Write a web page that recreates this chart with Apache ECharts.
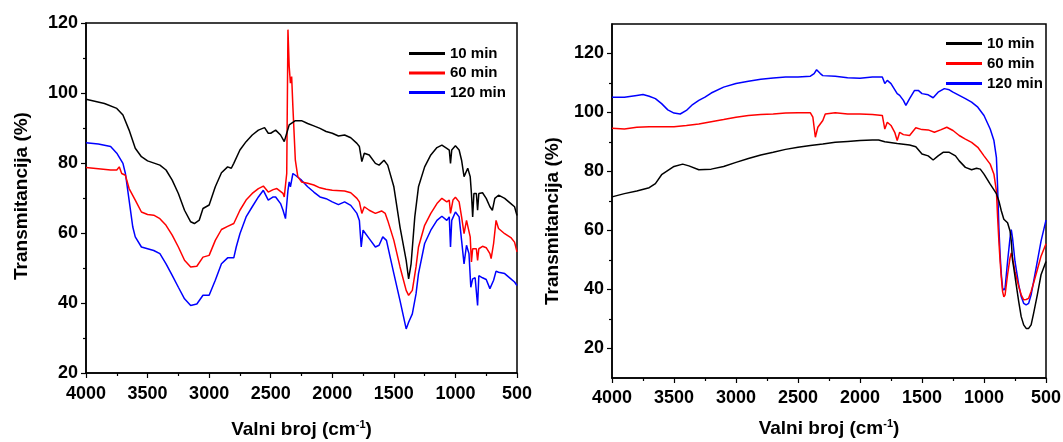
<!DOCTYPE html>
<html>
<head>
<meta charset="utf-8">
<script src="https://cdn.jsdelivr.net/npm/echarts@6/dist/echarts.min.js"></script>
<style>html,body{margin:0;padding:0;background:#fff;}#c{width:1063px;height:442px;}</style>
</head>
<body>
<div id="c"></div>
<script>
// ---------- DATA ----------
const seriesNames = ['10 min', '60 min', '120 min'];
const xTicks = [4000, 3500, 3000, 2500, 2000, 1500, 1000, 500];
const rightYLabels = [20, 40, 60, 80, 100, 120];
const rightYMinor = [30, 50, 70, 90, 110];

// Left panel, 10 min
const L10_wn = [4000,3850,3750,3700,3650,3600,3550,3500,3400,3350,3300,3250,3200,3150,3120,3080,3050,3000,2950,2900,2850,2820,2800,2750,2700,2650,2600,2550,2520,2500,2460,2420,2390,2370,2350,2300,2250,2200,2150,2100,2050,2000,1950,1900,1850,1800,1780,1760,1740,1700,1650,1620,1580,1550,1500,1450,1400,1380,1360,1330,1300,1250,1200,1150,1110,1070,1050,1040,1030,1000,970,950,930,900,880,870,860,850,830,820,810,780,750,720,700,680,650,600,550,520,500];
const L10_T  = [98.2,97,95.6,93.7,89.4,84.2,81.8,80.6,79.4,78,75.1,71.3,66.5,63.2,62.7,63.7,67,68,73.2,77.2,78.9,78.5,79.9,83.7,86.1,88,89.4,90.1,88.5,88.5,89.4,88,86.1,88.5,90.9,92.1,92.1,91.3,90.6,89.9,89,88.5,87.7,88,87.2,85.6,84.7,80.4,82.8,82.3,79.9,79.4,80.8,79.4,73.2,61.7,52.2,46.9,51.2,64.6,73.2,78.9,82.3,84.4,85.1,84.2,83.7,79.9,83.7,84.9,83.7,80.8,76.1,78.5,76.1,71.3,64.6,71.3,71.3,66.5,71.3,71.5,69.9,67.5,66.5,69.9,70.8,69.9,68.4,67.5,65];

// Left panel, 60 min
const L60_wn = [4000,3800,3750,3730,3710,3680,3650,3600,3550,3500,3450,3400,3350,3300,3250,3200,3150,3100,3050,3000,2950,2900,2850,2800,2750,2700,2650,2600,2560,2520,2480,2450,2400,2390,2370,2360,2350,2340,2330,2320,2300,2280,2250,2200,2150,2100,2050,2000,1900,1850,1800,1780,1760,1740,1700,1650,1600,1570,1550,1500,1450,1400,1380,1350,1320,1300,1250,1200,1150,1110,1070,1050,1040,1020,1000,970,950,930,910,900,880,870,860,830,820,810,780,750,720,710,690,670,650,600,550,520,500];
const L60_T  = [78.7,78,78,78.9,77,76.5,72.7,69.4,66,65.3,65.1,64.1,62.2,59.4,56,52.2,50.3,50.5,53.1,53.6,57.9,61,61.9,62.7,66.5,69.4,71.3,72.7,73.4,71.7,72.4,72.7,71.3,70.3,77,118.1,107.6,102.8,104.7,96.1,80.8,76.1,74.6,74.2,73.7,72.9,72.5,72.2,72,71.5,69.9,68.9,65.6,67.5,66.5,65.6,66.3,65.6,63.6,57.9,50.3,43.6,42.2,43.6,50.3,56,62.2,65.6,68.4,69.9,68.9,69.4,65.6,69.4,70.2,68.9,64.6,59.8,63.6,63.6,58.9,51.7,55.5,55.5,52.2,55.5,56.2,55.8,54.1,52.7,57,63.6,61.3,59.8,58.7,57.4,54.6];

// Left panel, 120 min
const L120_wn = [4000,3900,3800,3750,3700,3680,3650,3620,3600,3550,3500,3450,3400,3350,3300,3250,3200,3150,3100,3050,3000,2950,2900,2850,2800,2780,2750,2700,2650,2600,2560,2520,2480,2460,2420,2400,2380,2360,2350,2340,2320,2300,2250,2200,2150,2100,2050,2000,1950,1900,1850,1800,1780,1765,1750,1700,1650,1620,1590,1560,1530,1500,1450,1400,1380,1350,1320,1300,1250,1200,1150,1110,1070,1050,1040,1030,1000,970,950,930,910,890,875,860,840,820,810,780,750,720,690,670,650,600,550,520,500];
const L120_T  = [85.8,85.4,84.7,82.8,79.9,77,69.4,61.7,58.9,56,55.5,55,54.1,51.2,47.9,44.5,41.2,39.3,39.7,42.2,42.2,46.5,51.2,52.9,52.9,56,59.8,64.6,67.5,70.3,72.2,69.4,70.3,70.3,68.4,66.5,64.1,72.2,74.6,73.2,77,76.5,75.1,73.2,71.7,70.3,69.8,68.9,68.1,68.9,67.9,65.6,63.6,56,60.8,58.4,56,56.5,58.9,57.9,53.1,48.4,40.7,32.6,34.5,36.9,42.6,48.4,57,60.8,63.6,64.8,63.6,64.6,56,63.6,66,64.6,57.9,51.2,56.5,54.1,44.5,46.9,47.2,39.3,47.8,47.2,46.7,44.1,46.5,49.1,48.8,48.4,46.9,46,45];

// Right panel, 10 min
const R10_wn = [4000,3900,3800,3700,3650,3600,3500,3430,3380,3300,3200,3100,3000,2900,2800,2700,2600,2500,2400,2300,2200,2100,2000,1900,1850,1800,1700,1600,1550,1500,1450,1410,1370,1330,1280,1230,1200,1150,1100,1060,1030,1000,950,900,880,860,840,810,790,780,770,760,740,720,700,680,660,640,620,600,570,540,500];
const R10_T  = [71.4,72.5,73.4,74.5,75.9,78.9,81.7,82.5,81.9,80.6,80.8,81.7,83.1,84.4,85.6,86.5,87.5,88.2,88.8,89.3,89.9,90.2,90.5,90.7,90.7,90.1,89.5,89,88.4,85.9,85.3,83.9,85.3,86.5,86.5,85.3,83.6,81.4,80.6,81.1,80.8,79.1,75.7,72.5,70,66.6,63.8,62.6,59.8,56.4,50,47.3,41.6,35.9,30.8,28,26.8,26.8,28,31.9,38.2,45,49.5];

// Right panel, 60 min
const R60_wn = [4000,3900,3800,3700,3600,3500,3400,3300,3200,3100,3000,2900,2800,2700,2600,2500,2400,2380,2360,2340,2300,2280,2200,2100,2000,1900,1820,1800,1780,1750,1720,1700,1680,1650,1600,1550,1500,1450,1400,1350,1300,1250,1200,1150,1100,1050,1000,950,920,900,890,880,870,860,850,840,830,810,790,780,770,750,720,700,680,660,640,620,600,570,540,500];
const R60_T  = [94.7,94.4,95,95.2,95.2,95.2,95.6,96.1,96.9,97.6,98.4,99,99.3,99.5,99.8,99.9,99.9,98.4,91.6,95,97.3,99.5,99.9,99.5,99.5,99.3,99,94.4,96.7,95.6,93.3,90.5,93.3,92.5,92.2,94.8,94.2,94.1,93.3,94.1,95,93.9,92.2,91,89.9,88.2,85.3,82.5,79.1,73.4,64.3,56.4,49.5,43.9,39.3,37.5,38.2,45,50.7,52.4,50.7,46.1,41,38.2,36.5,36.6,37,39.3,42.2,46.7,51.3,55.5];

// Right panel, 120 min
const R120_wn = [4000,3900,3800,3750,3700,3650,3600,3550,3500,3450,3400,3350,3300,3250,3200,3100,3000,2900,2800,2700,2600,2500,2400,2370,2350,2320,2300,2200,2100,2000,1900,1820,1800,1780,1750,1700,1680,1650,1630,1600,1560,1530,1500,1450,1410,1370,1320,1280,1250,1200,1150,1100,1050,1000,950,920,900,890,880,870,860,850,840,830,810,790,780,770,750,720,700,680,660,640,620,600,570,540,500];
const R120_T  = [105.2,105.2,105.8,106.1,105.5,104.7,103,100.9,99.8,99.5,100.7,102.7,104.1,105.2,106.6,108.6,109.8,110.6,111.3,111.7,112,112,112.3,113.2,114.5,113.2,112.5,112.3,111.8,111.6,112,112,109.8,110.9,109.8,106.4,105.8,104.1,102.4,104.7,107.5,107.5,106.4,106,105,106.9,108.1,107.7,106.9,105.8,104.7,103.5,101.8,99,94.4,90.5,84.8,74.5,60.9,51.8,45,40.5,39.8,40.5,49.5,57.5,60.3,57.5,49.5,41.6,37.6,35.3,34.8,35.3,38.2,42.7,49.5,56.4,63.5];

// ---------- CHART ----------
const colors = ['#000000', '#ff0000', '#0000ff'];
const zip = (a, b) => a.map((v, i) => [v, b[i]]);
const leftData = [zip(L10_wn, L10_T), zip(L60_wn, L60_T), zip(L120_wn, L120_T)];
const rightData = [zip(R10_wn, R10_T), zip(R60_wn, R60_T), zip(R120_wn, R120_T)];

const FONT = 'Liberation Sans, Arial, sans-serif';
const lblStyle = { color: '#000', fontFamily: FONT, fontWeight: 'bold', fontSize: 18 };
const xName = '{a|Valni broj (cm}{s|-1}{a|)}';
const nameRich = {
  a: { fontFamily: FONT, fontWeight: 'bold', fontSize: 19, color: '#000' },
  s: { fontFamily: FONT, fontWeight: 'bold', fontSize: 11, color: '#000', verticalAlign: 'top', padding: [0, 0, 10, 0] }
};
const tickLine = { color: '#000', width: 1.2 };

function xAxis(gridIndex, margin, nameGap) {
  return {
    type: 'value', gridIndex, inverse: true, min: 500, max: 4000, interval: 500,
    name: xName, nameLocation: 'middle', nameGap,
    nameTextStyle: { rich: nameRich },
    axisLine: { lineStyle: { color: '#000', width: 1.5 } },
    axisTick: { show: true, length: 5, lineStyle: tickLine },
    minorTick: { show: true, splitNumber: 2, length: 3, lineStyle: tickLine },
    axisLabel: Object.assign({ margin, showMinLabel: true, showMaxLabel: true, formatter: v => String(v) }, lblStyle),
    splitLine: { show: false }
  };
}

const legendText = { fontFamily: FONT, fontWeight: 'bold', fontSize: 15, color: '#000' };

const option = {
  animation: false,
  backgroundColor: '#ffffff',
  grid: [
    { left: 86, top: 23, right: 546, bottom: 69, show: true, borderColor: '#000', borderWidth: 1.5, backgroundColor: 'transparent', containLabel: false, outerBoundsMode: 'none' },
    { left: 612, top: 24, right: 17, bottom: 64, show: true, borderColor: '#000', borderWidth: 1.5, backgroundColor: 'transparent', containLabel: false, outerBoundsMode: 'none' }
  ],
  legend: [
    { data: seriesNames, orient: 'vertical', left: 404, top: 41, icon: 'rect', itemWidth: 36, itemHeight: 3, itemGap: 4.5,
      textStyle: legendText, selectedMode: false },
    { data: seriesNames, orient: 'vertical', left: 941, top: 31, icon: 'rect', itemWidth: 36, itemHeight: 3, itemGap: 5,
      textStyle: legendText, selectedMode: false }
  ],
  xAxis: [xAxis(0, 12, 46), xAxis(1, 11, 40)],
  yAxis: [
    {
      type: 'value', gridIndex: 0, min: 20, max: 120, interval: 20,
      name: 'Transmitancija (%)', nameLocation: 'middle', nameGap: 55, nameRotate: 90,
      nameTextStyle: { fontFamily: FONT, fontWeight: 'bold', fontSize: 19, color: '#000', padding: [0, 0, 0, 4] },
      axisLine: { show: true, lineStyle: { color: '#000', width: 1.5 } },
      axisTick: { show: true, length: 5, lineStyle: tickLine },
      minorTick: { show: true, splitNumber: 2, length: 3, lineStyle: tickLine },
      axisLabel: Object.assign({ margin: 8 }, lblStyle),
      splitLine: { show: false }
    },
    {
      type: 'value', gridIndex: 1, position: 'left', min: 10, max: 130, interval: 10,
      name: 'Transmitancija (%)', nameLocation: 'middle', nameGap: 50, nameRotate: 90,
      nameTextStyle: { fontFamily: FONT, fontWeight: 'bold', fontSize: 19, color: '#000', padding: [0, 40, 0, 0] },
      axisLine: { show: true, lineStyle: { color: '#000', width: 1.5 } },
      axisTick: { show: true, length: 5, lineStyle: tickLine, customValues: rightYLabels },
      axisLabel: Object.assign({ margin: 8, customValues: rightYLabels, formatter: v => String(v) }, lblStyle),
      splitLine: { show: false }
    },
    {
      type: 'value', gridIndex: 1, position: 'left', offset: 0, min: 10, max: 130, interval: 10,
      axisLine: { show: false },
      axisTick: { show: true, length: 3, lineStyle: tickLine, customValues: rightYMinor },
      axisLabel: { show: false },
      splitLine: { show: false }
    }
  ],
  series: []
};

seriesNames.forEach((name, i) => {
  option.series.push({
    name, type: 'line', xAxisIndex: 0, yAxisIndex: 0, data: leftData[i],
    symbol: 'none', showSymbol: false, color: colors[i],
    lineStyle: { color: colors[i], width: 1.5 }, z: 3 - i
  });
});
seriesNames.forEach((name, i) => {
  option.series.push({
    name, type: 'line', xAxisIndex: 1, yAxisIndex: 1, data: rightData[i],
    symbol: 'none', showSymbol: false, color: colors[i],
    lineStyle: { color: colors[i], width: 1.5 }, z: 3 - i
  });
});

const chart = echarts.init(document.getElementById('c'), null, { renderer: 'canvas' });
chart.setOption(option);
</script>
</body>
</html>
